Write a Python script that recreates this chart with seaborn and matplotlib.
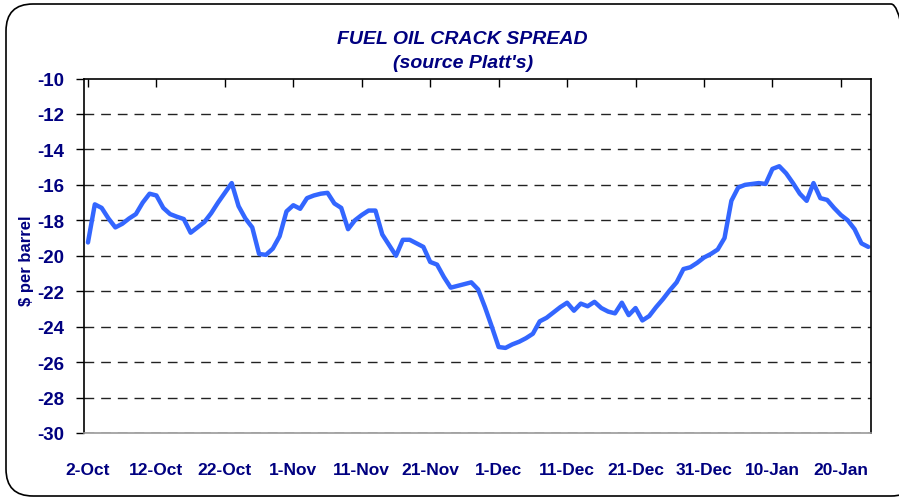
import numpy as np
import pandas as pd
import matplotlib
matplotlib.use("Agg")
import matplotlib.pyplot as plt
from matplotlib.patches import FancyBboxPatch
import seaborn as sns

# ---- data ----
start_date = "2006-10-02"
day_offsets = list(range(0, 115))
spread = [
    -19.25, -17.1, -17.3, -17.9, -18.4, -18.2, -17.9, -17.65, -17.0, -16.5,
    -16.6, -17.3, -17.65, -17.8, -17.93, -18.7, -18.4, -18.1, -17.6, -17.0,
    -16.45, -15.9, -17.2, -17.9, -18.4, -19.9, -19.95, -19.6, -18.9, -17.5,
    -17.15, -17.35, -16.75, -16.6, -16.5, -16.45, -17.05, -17.3, -18.5, -18.0,
    -17.7, -17.45, -17.45, -18.8, -19.4, -20.0, -19.1, -19.1, -19.3, -19.5,
    -20.35, -20.5, -21.2, -21.8, -21.7, -21.6, -21.5, -21.9, -22.9, -24.0,
    -25.15, -25.2, -25.0, -24.85, -24.65, -24.4, -23.7, -23.5, -23.2, -22.9,
    -22.65, -23.1, -22.7, -22.85, -22.6, -22.95, -23.15, -23.25, -22.65, -23.35,
    -22.95, -23.65, -23.4, -22.9, -22.45, -21.95, -21.5, -20.75, -20.65, -20.4,
    -20.1, -19.9, -19.65, -19.0, -16.9, -16.15, -16.0, -15.95, -15.9, -15.95,
    -15.1, -14.95, -15.35, -15.9, -16.5, -16.9, -15.9, -16.75, -16.85, -17.3,
    -17.7, -18.0, -18.5, -19.3, -19.5,
]
tick_labels = ["2-Oct", "12-Oct", "22-Oct", "1-Nov", "11-Nov", "21-Nov", "1-Dec",
               "11-Dec", "21-Dec", "31-Dec", "10-Jan", "20-Jan"]
y_ticks = [-30, -28, -26, -24, -22, -20, -18, -16, -14, -12, -10]

dates = pd.to_datetime(start_date) + pd.to_timedelta(day_offsets, unit="D")
df = pd.DataFrame({"date": dates, "spread": spread})

sns.set_theme(style="white")
plt.rcParams["font.family"] = ["Liberation Sans", "DejaVu Sans"]

NAVY = "#000080"
LINE = "#3366FF"

W, H = 899, 502
fig = plt.figure(figsize=(W / 100, H / 100), dpi=100)
fig.patch.set_facecolor("white")

# rounded outer frame
frame = FancyBboxPatch((6 / W, 5 / H), 912 / W, 492 / H,
                       boxstyle="round,pad=0,rounding_size=0.03",
                       transform=fig.transFigure, fill=False,
                       edgecolor="black", linewidth=1.2, mutation_aspect=W / H)
fig.patches.append(frame)

ax_l, ax_r, ax_t, ax_b = 84, 871, 79.5, 434
ax = fig.add_axes([ax_l / W, 1 - ax_b / H, (ax_r - ax_l) / W, (ax_b - ax_t) / H])
sns.lineplot(data=df, x="date", y="spread", ax=ax, color=LINE, linewidth=3.2)

x0 = pd.to_datetime(start_date)
ax.set_xlim(x0 - pd.Timedelta(days=0.58), x0 + pd.Timedelta(days=114.4))
ax.set_ylim(-30, -10)

tick_dates = [x0 + pd.Timedelta(days=10 * i) for i in range(len(tick_labels))]
ax.set_xticks(tick_dates)
ax.set_xticklabels(tick_labels)
ax.set_yticks(y_ticks)
ax.set_yticklabels([str(v) for v in y_ticks])

ax.tick_params(axis="x", which="both", top=True, bottom=False, labeltop=False,
               labelbottom=True, direction="in", length=6, width=1, color="black",
               pad=21, labelsize=12.5, labelcolor=NAVY)
ax.tick_params(axis="y", left=True, direction="out", length=6, width=1, color="black",
               pad=8, labelsize=13.5, labelcolor=NAVY)
for lab in ax.get_xticklabels() + ax.get_yticklabels():
    lab.set_fontweight("bold")

ax.grid(False)
for v in y_ticks[:-1]:
    if v == -30:
        continue
    ax.axhline(v, color="#222222", linewidth=1.0, linestyle=(0, (7, 5)), zorder=0)
ax.axhline(-30, color="#222222", linewidth=1.0, linestyle=(0, (7, 5)), zorder=1)

for side in ["left", "right", "top"]:
    ax.spines[side].set_visible(True)
    ax.spines[side].set_color("black")
    ax.spines[side].set_linewidth(1.2)
ax.spines["bottom"].set_visible(True)
ax.spines["bottom"].set_color("#999999")
ax.spines["bottom"].set_linewidth(1.2)

ax.set_xlabel("")
ax.set_ylabel("$ per barrel", color=NAVY, fontsize=12, fontweight="bold")
ax.yaxis.set_label_coords(-0.064, 0.488)

fig.text(462 / W, 1 - 39.5 / H, "FUEL OIL CRACK SPREAD", ha="center", va="center",
         color=NAVY, fontsize=14, fontweight="bold", style="italic")
fig.text(463 / W, 1 - 64 / H, "(source Platt's)", ha="center", va="center",
         color=NAVY, fontsize=14, fontweight="bold", style="italic")

fig.savefig("out.png", dpi=100, facecolor="white")
